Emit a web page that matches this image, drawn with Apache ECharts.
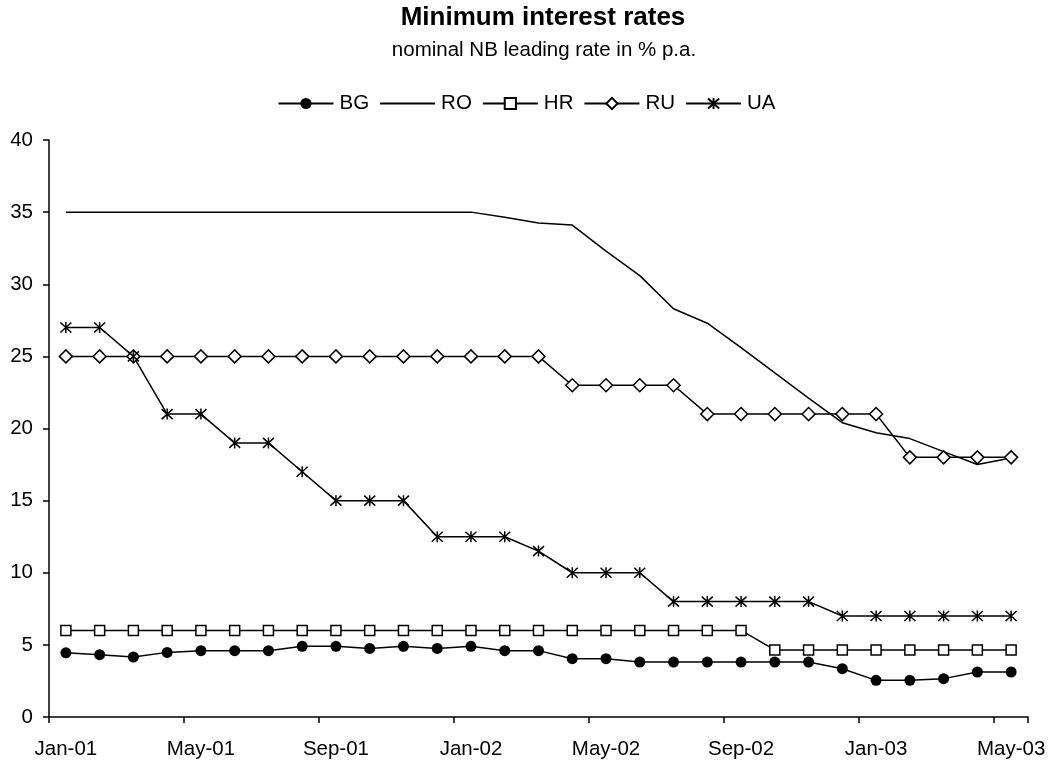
<!DOCTYPE html>
<html>
<head>
<meta charset="utf-8">
<script src="https://cdn.jsdelivr.net/npm/echarts@6/dist/echarts.min.js"></script>
<style>
html,body{margin:0;padding:0;background:#fff;}
#chart{width:1053px;height:766px;}
</style>
</head>
<body>
<div id="chart"></div>
<script>
const months = ['Jan-01','Feb-01','Mar-01','Apr-01','May-01','Jun-01','Jul-01','Aug-01','Sep-01','Oct-01','Nov-01','Dec-01',
  'Jan-02','Feb-02','Mar-02','Apr-02','May-02','Jun-02','Jul-02','Aug-02','Sep-02','Oct-02','Nov-02','Dec-02',
  'Jan-03','Feb-03','Mar-03','Apr-03','May-03'];
const BG = [4.45,4.32,4.16,4.48,4.6,4.6,4.6,4.9,4.9,4.75,4.9,4.75,4.9,4.6,4.6,4.04,4.04,3.81,3.81,3.81,3.81,3.81,3.81,3.35,2.54,2.54,2.66,3.12,3.12];
const RO = [35,35,35,35,35,35,35,35,35,35,35,35,35,34.65,34.25,34.1,32.3,30.6,28.3,27.3,25.6,23.85,22.1,20.4,19.7,19.3,18.4,17.5,17.95];
const HR = [6,6,6,6,6,6,6,6,6,6,6,6,6,6,6,6,6,6,6,6,6,4.65,4.65,4.65,4.65,4.65,4.65,4.65,4.65];
const RU = [25,25,25,25,25,25,25,25,25,25,25,25,25,25,25,23,23,23,23,21,21,21,21,21,21,18,18,18,18];
const UA = [27,27,25,21,21,19,19,17,15,15,15,12.5,12.5,12.5,11.5,10,10,10,8,8,8,8,8,7,7,7,7,7,7];
const seriesNames = ['BG','RO','HR','RU','UA'];
const titleText = 'Minimum interest rates';
const subtitleText = 'nominal NB leading rate in % p.a.';

const FONT = 'Liberation Sans, Arial, sans-serif';
const chart = echarts.init(document.getElementById('chart'));
const lineStyle = {color:'#000', width:1.5};
const starPath = 'path://M0,0L10,10M0,10L10,0M5,-0.5L5,10.5';

chart.setOption({
  animation:false,
  backgroundColor:'#fff',
  graphic:[
    {type:'text', x:543, y:18, style:{text:titleText, font:'bold 26px '+FONT, fill:'#000', align:'center', verticalAlign:'middle'}},
    {type:'text', x:544, y:50, style:{text:subtitleText, font:'20.5px '+FONT, fill:'#000', align:'center', verticalAlign:'middle'}}
  ],
  legend:{
    top:88, left:'center', itemWidth:55, itemHeight:14, itemGap:10,
    textStyle:{fontFamily:FONT, fontSize:20.5, color:'#000', padding:[0,0,0,1]},
    data:[
      {name:seriesNames[0]},
      {name:seriesNames[1], itemStyle:{opacity:0}},
      {name:seriesNames[2]},
      {name:seriesNames[3]},
      {name:seriesNames[4]}
    ]
  },
  grid:{left:49, right:25, top:140, bottom:49, containLabel:false},
  xAxis:{
    type:'category', data:months, boundaryGap:true,
    axisLine:{lineStyle:{color:'#000', width:1.5}},
    axisTick:{show:true, interval:3, alignWithLabel:false, length:6, lineStyle:{color:'#000', width:1.5}},
    axisLabel:{interval:3, margin:22, fontFamily:FONT, fontSize:20.5, color:'#000'},
    splitLine:{show:false}
  },
  yAxis:{
    type:'value', min:0, max:40, interval:5,
    axisLine:{show:true, lineStyle:{color:'#000', width:1.5}},
    axisTick:{show:true, length:6, lineStyle:{color:'#000', width:1.5}},
    axisLabel:{margin:16, fontFamily:FONT, fontSize:20.5, color:'#000'},
    splitLine:{show:false}
  },
  series:[
    {name:seriesNames[0], type:'line', data:BG, symbol:'circle', symbolSize:11, lineStyle:lineStyle,
     itemStyle:{color:'#000', borderColor:'#000', borderWidth:0}},
    {name:seriesNames[1], type:'line', data:RO, symbol:'none', lineStyle:lineStyle, itemStyle:{color:'#000'}},
    {name:seriesNames[2], type:'line', data:HR, symbol:'rect', symbolSize:10, lineStyle:lineStyle,
     itemStyle:{color:'#fff', borderColor:'#000', borderWidth:1.5}},
    {name:seriesNames[3], type:'line', data:RU, symbol:'diamond', symbolSize:13, lineStyle:lineStyle,
     itemStyle:{color:'#fff', borderColor:'#000', borderWidth:1.5}},
    {name:seriesNames[4], type:'line', data:UA, symbol:starPath, symbolSize:11, lineStyle:lineStyle,
     itemStyle:{color:'#000', borderColor:'#000', borderWidth:1.5}}
  ]
});
</script>
</body>
</html>
